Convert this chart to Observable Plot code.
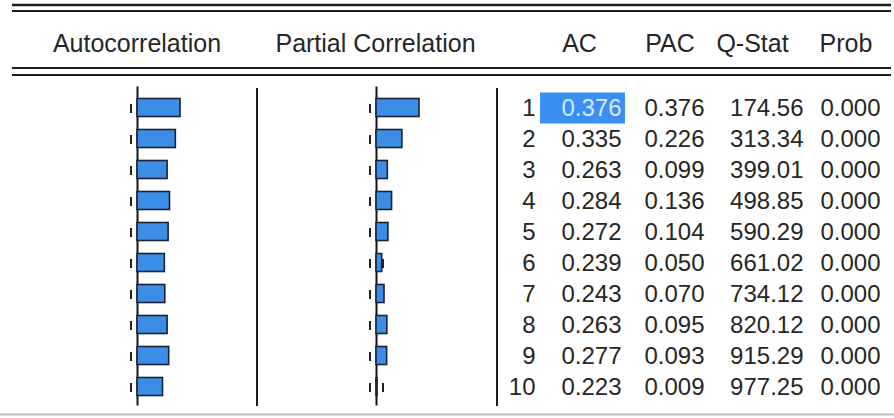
<!DOCTYPE html>
<html>
<head>
<meta charset="utf-8">
<script src="https://cdn.jsdelivr.net/npm/d3@7"></script>
<script src="https://cdn.jsdelivr.net/npm/@observablehq/plot@0.6"></script>
<style>
  html, body { margin: 0; padding: 0; background: #fff; }
  #chart { position: relative; width: 894px; height: 418px; overflow: hidden; background: #fff;
           font-family: "Liberation Sans", Arial, sans-serif; }
  #chart > svg { position: absolute; }
</style>
</head>
<body>
<div id="chart"></div>
<script>
// ---- data ----
const lags = [1, 2, 3, 4, 5, 6, 7, 8, 9, 10];
const acValues = [0.376, 0.335, 0.263, 0.284, 0.272, 0.239, 0.243, 0.263, 0.277, 0.223];
const pacValues = [0.376, 0.226, 0.099, 0.136, 0.104, 0.050, 0.070, 0.095, 0.093, 0.009];
const qStats = [174.56, 313.34, 399.01, 498.85, 590.29, 661.02, 734.12, 820.12, 915.29, 977.25];
const probs = [0.000, 0.000, 0.000, 0.000, 0.000, 0.000, 0.000, 0.000, 0.000, 0.000];
const confBound = 0.057; // approx. 2/sqrt(n) dashed bounds
const panelHeaders = ["Autocorrelation", "Partial Correlation"];
const columnHeaders = ["AC", "PAC", "Q-Stat", "Prob"];

const rows = lags.map((lag, i) => ({lag, ac: acValues[i], pac: pacValues[i], q: qStats[i], prob: probs[i]}));
const bounds = rows.flatMap(d => [{lag: d.lag, b: -confBound}, {lag: d.lag, b: confBound}]);

// ---- style / layout ----
const FONT = "Liberation Sans, Arial, sans-serif";
const TEXT = "#262626";
const BAR_FILL = "#3b8de6";
const BAR_STROKE = "#1a2238";
const UNIT = 114.4; // px per unit of correlation
const chart = document.getElementById("chart");

const yScale = {type: "band", domain: lags, axis: null, paddingInner: 0, paddingOuter: 0};
const common = {
  height: 418, marginTop: 86.5, marginBottom: 12.5, marginLeft: 0, marginRight: 0,
  style: {background: "transparent", fontFamily: FONT, fontSize: "24px", overflow: "visible"}
};

// decorations: rules, separators, headers
const deco = d3.create("svg").attr("width", 894).attr("height", 418)
  .style("left", "0px").style("top", "0px");
[[5, 2.4], [11, 2], [68, 2.2], [75, 2]].forEach(([y, w]) =>
  deco.append("line").attr("x1", 12).attr("x2", 891).attr("y1", y).attr("y2", y)
    .attr("stroke", "#1c1c1c").attr("stroke-width", w));
deco.append("line").attr("x1", 0).attr("x2", 894).attr("y1", 414.5).attr("y2", 414.5)
  .attr("stroke", "#bdbdbd").attr("stroke-width", 2);
[257, 497].forEach(x =>
  deco.append("line").attr("x1", x).attr("x2", x).attr("y1", 88).attr("y2", 406)
    .attr("stroke", "#1c1c1c").attr("stroke-width", 2));
const headerCenters = [137, 375.5, 579.5, 670, 752.5, 846];
[...panelHeaders, ...columnHeaders].forEach((t, i) =>
  deco.append("text").attr("x", headerCenters[i]).attr("y", 51.5).attr("text-anchor", "middle")
    .attr("font-family", FONT).attr("font-size", 25).attr("fill", TEXT).text(t));
chart.appendChild(deco.node());

function corrPanel(key, left, width, zeroAt) {
  const svg = Plot.plot({
    ...common, width,
    x: {domain: [-zeroAt / UNIT, (width - zeroAt) / UNIT], axis: null},
    y: yScale,
    marks: [
      Plot.tickX(bounds, {x: "b", y: "lag", stroke: "#222", strokeWidth: 2, insetTop: 13, insetBottom: 9}),
      Plot.ruleX([0], {stroke: "#151515", strokeWidth: 2}),
      Plot.barX(rows, {x1: 0, x2: key, y: "lag", fill: BAR_FILL, stroke: BAR_STROKE, strokeWidth: 1.6,
                       insetTop: 7.5, insetBottom: 5.5})
    ]
  });
  svg.style.left = left + "px";
  svg.style.top = "0px";
  chart.appendChild(svg);
}
corrPanel("ac", 0, 257, 137);
corrPanel("pac", 257, 240, 119);

// numeric table
const colRight = {lag: 38, ac: 124, pac: 207, q: 306, prob: 383};
const txt = (fmt, col, fill = TEXT) => Plot.text(rows, {
  x: () => colRight[col], y: "lag", text: fmt, textAnchor: "end", dy: 1,
  fontSize: 24, fontFamily: FONT, fill
});
const table = Plot.plot({
  ...common, width: 397,
  x: {domain: [0, 397], range: [0, 397], axis: null},
  y: yScale,
  marks: [
    Plot.barX(rows.filter(d => d.lag === 1), {x1: () => colRight.ac - 81, x2: () => colRight.ac + 4, y: "lag",
                                               fill: "#3a8ff0", insetTop: 1.5, insetBottom: -1.5}),
    txt(d => String(d.lag), "lag"),
    txt(d => d.ac.toFixed(3), "ac", d => d.lag === 1 ? "#d4e9ff" : TEXT),
    txt(d => d.pac.toFixed(3), "pac"),
    txt(d => d.q.toFixed(2), "q"),
    txt(d => d.prob.toFixed(3), "prob")
  ]
});
table.style.left = "497px";
table.style.top = "0px";
chart.appendChild(table);
</script>
</body>
</html>
